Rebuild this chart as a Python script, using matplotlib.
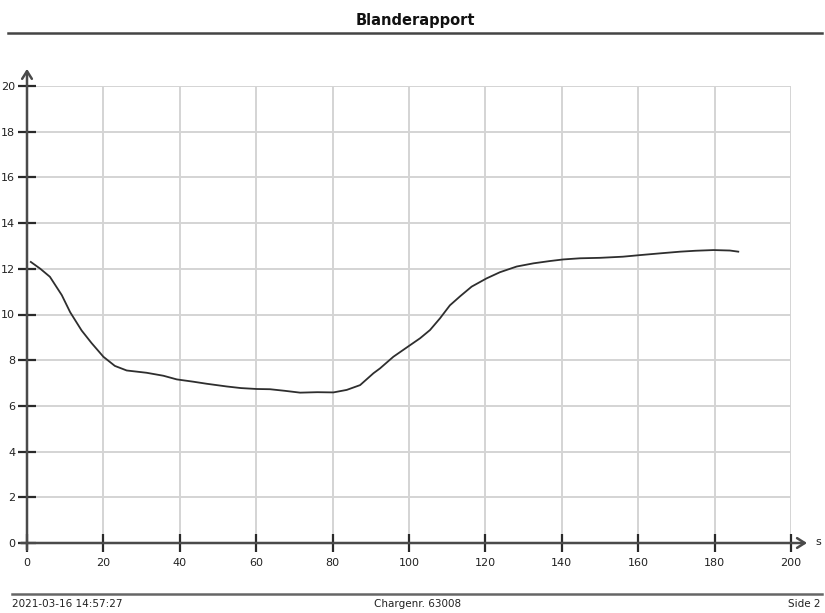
import matplotlib
matplotlib.use("Agg")
import matplotlib.pyplot as plt

# Measured mixer signal over time (s)
time_s = [1.0, 3.5, 6.0, 9.1, 11.3, 14.3, 16.9, 20.0, 23.0, 26.1, 31.3, 35.7, 39.2,
          43.5, 47.0, 52.3, 56.0, 60.1, 63.6, 67.5, 71.5, 76.0, 80.2, 83.7, 87.2,
          90.7, 92.4, 95.9, 100.3, 102.9, 105.5, 108.1, 110.7, 113.4, 116.4,
          120.3, 123.8, 128.2, 132.6, 136.9, 140.4, 144.8, 150.0, 156.0, 160.5,
          166.0, 171.0, 175.0, 179.7, 184.0, 186.2]
values = [12.3, 12.0, 11.65, 10.85, 10.1, 9.3, 8.75, 8.15, 7.75, 7.55, 7.45, 7.32, 7.16,
          7.06, 6.97, 6.85, 6.78, 6.74, 6.73, 6.66, 6.58, 6.6, 6.59, 6.7, 6.91,
          7.43, 7.64, 8.15, 8.66, 8.96, 9.32, 9.83, 10.4, 10.8, 11.22,
          11.58, 11.85, 12.1, 12.24, 12.34, 12.41, 12.46, 12.48, 12.53, 12.6,
          12.68, 12.75, 12.79, 12.82, 12.8, 12.75]

x_ticks = list(range(0, 201, 20))
y_ticks = list(range(0, 21, 2))

title = "Blanderapport"
footer_left = "2021-03-16 14:57:27"
footer_center = "Chargenr. 63008"
footer_right = "Side 2"
x_unit = "s"

W, H = 825, 613
fig = plt.figure(figsize=(W / 100, H / 100), dpi=100)
fig.patch.set_facecolor("white")

ax = fig.add_axes([27 / W, (H - 543) / H, (791 - 27) / W, (543 - 86) / H])
ax.set_xlim(0, 200)
ax.set_ylim(0, 20)
for sp in ax.spines.values():
    sp.set_visible(False)

ax.set_xticks(x_ticks)
ax.set_yticks(y_ticks)
ax.grid(True, color="#d4d4d4", lw=1.4)
ax.set_axisbelow(True)
ax.tick_params(direction="inout", length=13, width=1.6, color="#2a2a2a",
               labelsize=8, labelcolor="#222222")
ax.tick_params(axis="x", pad=4)
ax.tick_params(axis="y", pad=2)

axis_col = "#4a4a4a"
# axes with open arrowheads
ax.annotate("", xy=(204.2, 0), xytext=(-1.6, 0), annotation_clip=False,
            arrowprops=dict(arrowstyle="->,head_length=0.55,head_width=0.35",
                            lw=1.8, color=axis_col, shrinkA=0, shrinkB=0))
ax.annotate("", xy=(0, 20.75), xytext=(0, -0.3), annotation_clip=False,
            arrowprops=dict(arrowstyle="->,head_length=0.55,head_width=0.35",
                            lw=1.8, color=axis_col, shrinkA=0, shrinkB=0))
ax.text(206.5, 0.05, x_unit, fontsize=8, color="#222222", va="center", ha="left",
        clip_on=False)

ax.plot(time_s, values, color="#2e2e2e", lw=1.3, zorder=5)

# header
fig.text(415 / W, 1 - 20 / H, title, ha="center", va="center", fontsize=10.5,
         fontweight="bold", color="#111111")
fig.add_artist(plt.Line2D([8 / W, 822 / W], [1 - 33 / H, 1 - 33 / H],
                          color="#444444", lw=1.8, transform=fig.transFigure))

# footer
fig.add_artist(plt.Line2D([12 / W, 822 / W], [1 - 594 / H, 1 - 594 / H],
                          color="#666666", lw=1.8, transform=fig.transFigure))
fy = 1 - 604 / H
fig.text(12 / W, fy, footer_left, ha="left", va="center", fontsize=7.5, color="#222222")
fig.text(418 / W, fy, footer_center, ha="center", va="center", fontsize=7.5, color="#222222")
fig.text(821 / W, fy, footer_right, ha="right", va="center", fontsize=7.5, color="#222222")

fig.savefig("out.png", dpi=100, facecolor="white")
